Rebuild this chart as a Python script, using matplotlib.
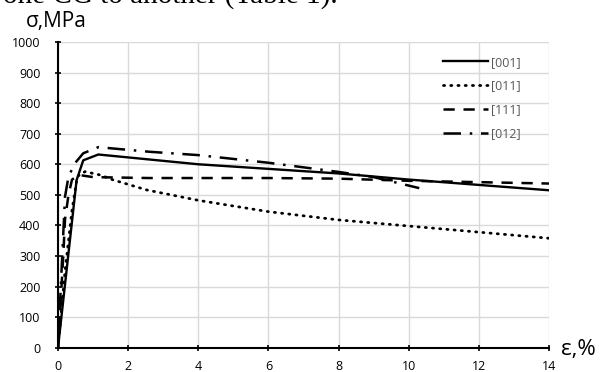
import matplotlib
matplotlib.use("Agg")
import matplotlib.pyplot as plt

# ---- data ----
x001 = [0, 0.53, 0.72, 1.15, 4, 8, 10, 14]
y001 = [0, 548, 613, 632, 600, 570, 550, 515]

x011 = [0, 0.2, 0.4, 0.55, 0.77, 1.2, 1.57, 2.53, 4, 6, 8, 10, 12, 14]
y011 = [0, 250, 450, 560, 576, 565, 549, 516, 482, 445, 418, 398, 378, 358]

x111 = [0, 0.1, 0.15, 0.2, 0.3, 0.4, 0.6, 1, 2.6, 6, 8, 10, 14]
y111 = [0, 200, 300, 420, 500, 550, 565, 558, 555, 555, 553, 546, 537]

x012 = [0, 0.1, 0.2, 0.3, 0.48, 0.72, 1.15, 2.6, 4, 6, 8, 9, 10.3]
y012 = [0, 250, 494, 560, 603, 636, 656, 641, 630, 605, 575, 558, 522]

labels = ["[001]", "[011]", "[111]", "[012]"]
xticks = [0, 2, 4, 6, 8, 10, 12, 14]
yticks = [0, 100, 200, 300, 400, 500, 600, 700, 800, 900, 1000]

plt.rcParams['font.family'] = ['Open Sans', 'DejaVu Sans']

fig = plt.figure(figsize=(6, 3.72), dpi=100)
ax = fig.add_axes([58/600, (372-347.7)/372, (549-58)/600, (347.7-42)/372])

ax.plot(x001, y001, color='black', lw=1.7, linestyle='-', label=labels[0])
ax.plot(x011, y011, color='black', lw=2.0, linestyle=(0, (0.4, 2.2)),
        dash_capstyle='round', label=labels[1])
ax.plot(x111, y111, color='black', lw=1.8, linestyle=(0, (4.5, 3.5)), label=labels[2])
ax.plot(x012, y012, color='black', lw=1.8, linestyle=(0, (7, 3.5, 1, 3.5)), label=labels[3])

ax.set_xlim(0, 14)
ax.set_ylim(0, 1000)
ax.set_xticks(xticks)
ax.set_yticks(yticks)
ax.grid(True, color='#d9d9d9', lw=1.0)
ax.set_axisbelow(True)
for s in ['top', 'right']:
    ax.spines[s].set_visible(False)
for s in ['left', 'bottom']:
    ax.spines[s].set_color('black')
    ax.spines[s].set_linewidth(1.5)
ax.tick_params(axis='both', direction='inout', length=5, width=1.2,
               labelsize=9, colors='black')
ax.tick_params(axis='x', pad=6)
ax.tick_params(axis='y', pad=10)

leg = ax.legend(loc='upper left', bbox_to_anchor=(0.784, 0.955), frameon=False,
                fontsize=9, handlelength=3.6, handletextpad=0.25,
                labelspacing=0.86, borderaxespad=0, borderpad=0)
for t in leg.get_texts():
    t.set_color('#595959')

fig.text(26/600, (372-27)/372, "σ,MPa", fontsize=15, ha='left', va='baseline')
fig.text(561/600, (372-355)/372, "ε,%", fontsize=16, ha='left', va='baseline')
fig.text(338/600, (372-2.5)/372, "one CG to another (Table 1).", fontsize=21,
         family='Liberation Serif', ha='right', va='baseline')

fig.savefig("out.png", dpi=100)
